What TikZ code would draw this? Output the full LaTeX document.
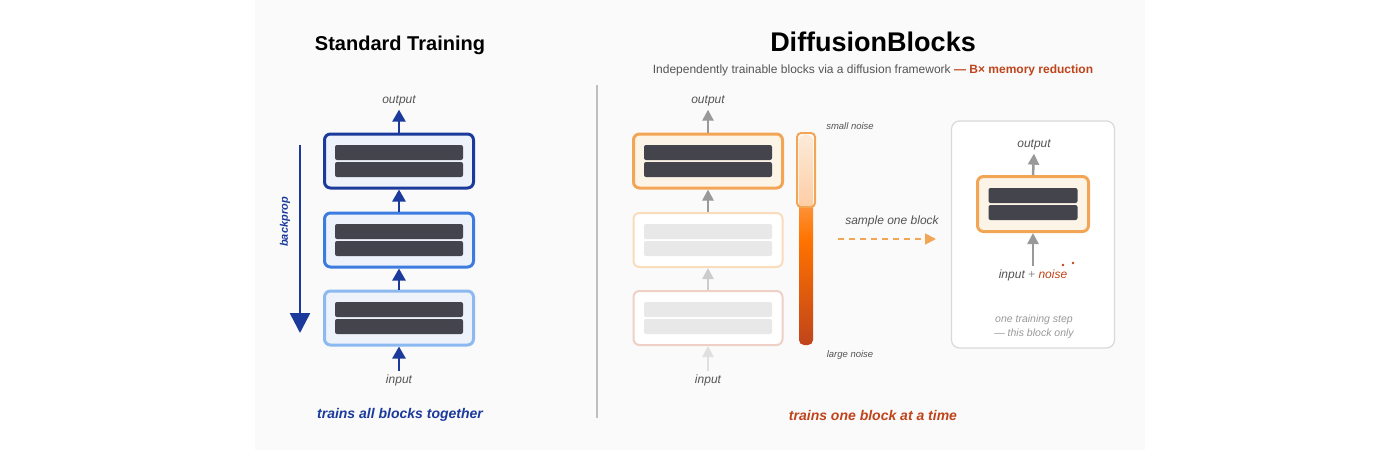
\documentclass[tikz,border=0pt]{standalone}
\usepackage{fontspec}
\setmainfont{Liberation Sans}
\usetikzlibrary{arrows.meta,positioning}
\definecolor{panel}{HTML}{FAFAFA}
\definecolor{bardark}{HTML}{44444C}
\definecolor{barpale}{HTML}{E8E8E8}
\definecolor{bluedark}{HTML}{1C3A9C}
\definecolor{bluemid}{HTML}{3C7CE0}
\definecolor{bluelight}{HTML}{8CB9F0}
\definecolor{bluefill}{HTML}{EEF2FB}
\definecolor{orng}{HTML}{F2A655}
\definecolor{orngfill}{HTML}{FDF4E8}
\definecolor{redtxt}{HTML}{C0441A}
\definecolor{graytxt}{HTML}{555555}
\tikzset{
  blk/.style={draw, line width=3pt, rounded corners=6pt, minimum width=149pt, minimum height=54pt},
  bar/.style={rounded corners=2pt, fill=bardark, minimum width=128pt, minimum height=15pt, inner sep=0pt},
  lbl/.style={font=\itshape\fontsize{12}{14}\selectfont, text=graytxt},
  small/.style={font=\itshape\fontsize{9.5}{11}\selectfont, text=graytxt},
  bup/.style={bluedark, line width=2.5pt, -{Triangle[width=13pt,length=12pt]}},
  gup/.style={line width=2.5pt, -{Triangle[width=11pt,length=11pt]}},
}
\begin{document}
\begin{tikzpicture}[x=1pt,y=-1pt]
  \useasboundingbox (0,0) rectangle (1400,467);
  \fill[panel] (255,0) rectangle (1145,450);

  % Standard training
  \node[font=\bfseries\fontsize{20}{24}\selectfont] (ttl) at (400,45) {Standard Training};
  \node[blk, draw=bluedark, fill=bluefill] (s3) at (399,161) {};
  \node[blk, draw=bluemid, fill=bluefill] (s2) at (399,240) {};
  \node[blk, draw=bluelight, fill=bluefill] (s1) at (399,318) {};
  \foreach \b in {s1,s2,s3} {
    \node[bar] at ([yshift=8.5pt]\b.center) {};
    \node[bar] at ([yshift=-8.5pt]\b.center) {};
  }
  \node[lbl] (sout) at (399,101) {output};
  \node[lbl] (sin) at (399,380) {input};
  \draw[bup] (s3.north) -- (sout.south);
  \draw[bup] (s2.north) -- (s3.south);
  \draw[bup] (s1.north) -- (s2.south);
  \draw[bup] (sin.north) -- (s1.south);
  \coordinate (bp1) at (300,145);
  \coordinate (bp2) at (300,333);
  \draw[bluedark, line width=2.5pt, -{Triangle[width=20pt,length=20pt]}] (bp1) -- (bp2);
  \node[rotate=90, text=bluedark, font=\bfseries\itshape\fontsize{11}{13}\selectfont] (bpl) at (285,222) {backprop};
  \node[text=bluedark, font=\bfseries\itshape\fontsize{14}{17}\selectfont] (scap) at (400,415) {trains all blocks together};

  \coordinate (d1) at (597,85);
  \coordinate (d2) at (597,418);
  \draw[black!25, line width=1.2pt] (d1) -- (d2);

  % DiffusionBlocks
  \node[font=\bfseries\fontsize{27}{32}\selectfont] (dttl) at (873,42) {DiffusionBlocks};
  \node[text=graytxt, font=\fontsize{12}{14}\selectfont] (sub) at (873,70) {Independently trainable blocks via a diffusion framework \textcolor{redtxt}{\bfseries — B× memory reduction}};
  \node[blk, draw=orng, fill=orngfill] (d3) at (708,161) {};
  \node[blk, draw=orng!40, line width=2pt, fill=white] (db2) at (708,240) {};
  \node[blk, draw=redtxt!25, line width=2pt, fill=white] (db1) at (708,318) {};
  \node[bar] at ([yshift=8.5pt]d3.center) {};
  \node[bar] at ([yshift=-8.5pt]d3.center) {};
  \foreach \b in {db1,db2} {
    \node[bar, fill=barpale] at ([yshift=8.5pt]\b.center) {};
    \node[bar, fill=barpale] at ([yshift=-8.5pt]\b.center) {};
  }
  \node[lbl] (dout) at (708,101) {output};
  \node[lbl] (din) at (708,380) {input};
  \draw[gup, black!40] (d3.north) -- (dout.south);
  \draw[gup, black!40] (db2.north) -- (d3.south);
  \draw[gup, black!20] (db1.north) -- (db2.south);
  \draw[gup, black!12] (din.north) -- (db1.south);

  % noise scale
  \shade[top color=orng!50, bottom color=redtxt, middle color=orange!90!red, rounded corners=5pt] (799,135) rectangle (813,345);
  \draw[orng, line width=2pt, fill=white, fill opacity=0.55, rounded corners=4pt] (797,133) rectangle (815,207);
  \node[small] (sn) at (850,126) {small noise};
  \node[small] (ln) at (850,355) {large noise};

  \node[lbl] (smp) at (892,221) {sample one block};
  \coordinate (sa1) at (838,239);
  \coordinate (sa2) at (936,239);
  \draw[orng, line width=1.8pt, dash pattern=on 6pt off 5pt, -{Triangle[width=11pt,length=11pt]}] (sa1) -- (sa2);

  % single step panel
  \node[draw=black!15, line width=1.2pt, fill=white, rounded corners=8pt, minimum width=163pt, minimum height=227pt] (step) at (1033,234.5) {};
  \node[blk, draw=orng, fill=orngfill, minimum width=111pt, minimum height=55pt] (one) at (1033,204) {};
  \node[bar, minimum width=89pt] at ([yshift=8.5pt]one.center) {};
  \node[bar, minimum width=89pt] at ([yshift=-8.5pt]one.center) {};
  \node[lbl] (oout) at (1034,145) {output};
  \node[lbl] (oin) at (1033,275) {input \textcolor{black!45}{+} \textcolor{redtxt}{noise}};
  \draw[gup, black!40] (one.north) -- (oout.south);
  \draw[gup, black!40] (oin.north) -- (one.south);
  \fill[redtxt] (1063,265) circle (1.3pt) (1073,263) circle (1.3pt);
  \node[small, text=black!40, font=\itshape\fontsize{10.5}{14}\selectfont, align=center] (note) at (1034,327) {one training step\\— this block only};

  \node[text=redtxt, font=\bfseries\itshape\fontsize{14}{17}\selectfont] (dcap) at (873,415) {trains one block at a time};
\end{tikzpicture}
\end{document}
